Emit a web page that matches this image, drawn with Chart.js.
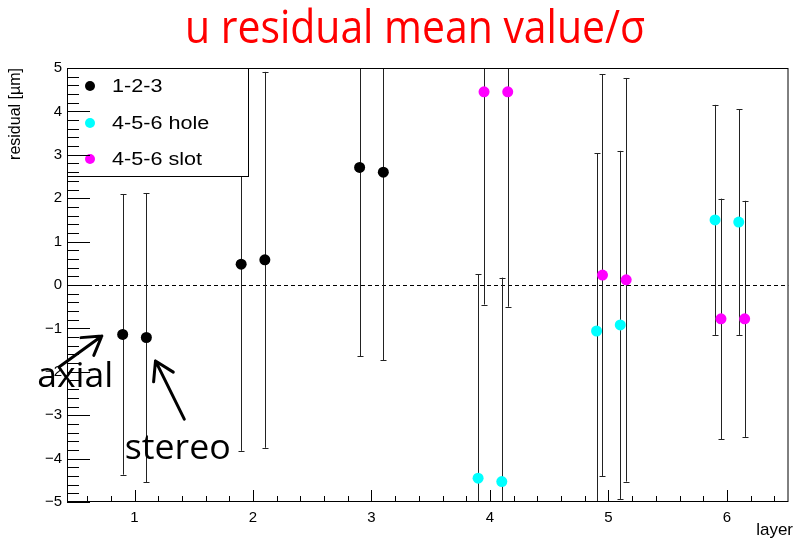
<!DOCTYPE html>
<html>
<head>
<meta charset="utf-8">
<script src="https://cdn.jsdelivr.net/npm/chart.js@4.4.0/dist/chart.umd.min.js"></script>
<style>
  html, body { margin: 0; padding: 0; background: #fff; }
  #wrap { width: 794px; height: 540px; }
</style>
</head>
<body>
<div id="wrap"><canvas id="chart" width="794" height="540"></canvas></div>
<script>
// series: layer position, mean residual, error
const seriesNames = ['1-2-3', '4-5-6 hole', '4-5-6 slot'];
const seriesColors = ['#000000', '#00ffff', '#ff00ff'];

const xBlack = [0.9, 1.1, 1.9, 2.1, 2.9, 3.1];
const yBlack = [-1.14, -1.21, 0.48, 0.58, 2.71, 2.60];
const eBlack = [3.23, 3.33, 4.30, 4.33, 4.35, 4.33];

const xHole = [3.9, 4.1, 4.9, 5.1, 5.9, 6.1];
const yHole = [-4.45, -4.53, -1.06, -0.92, 1.50, 1.45];
const eHole = [4.70, 4.70, 4.09, 4.01, 2.65, 2.60];

const xSlot = [3.95, 4.15, 4.95, 5.15, 5.95, 6.15];
const ySlot = [4.45, 4.45, 0.23, 0.12, -0.78, -0.78];
const eSlot = [4.90, 4.95, 4.63, 4.65, 2.77, 2.72];

const xTicks = [1, 2, 3, 4, 5, 6];
const yTicks = [-5, -4, -3, -2, -1, 0, 1, 2, 3, 4, 5];

const titleText = 'u residual mean value/\u03c3';
const yTitle = 'residual [\u00b5m]';
const xTitle = 'layer';

// hand-written notes on the plot, in data units
const notes = [
    { text: 'axial', x: 0.178, y: -2.35, width: 76 },
    { text: 'stereo', x: 0.917, y: -4.01, width: 106 }
];
const arrows = [
    { from: [0.363, -1.89], to: [0.724, -1.175] },
    { from: [1.42, -3.09], to: [1.177, -1.75] }
];

function toPoints(xs, ys) {
    return xs.map((x, i) => ({ x: x, y: ys[i] }));
}

const tickFont = { family: '"Liberation Sans", Arial, sans-serif', size: 15 };

function fitText(ctx, text, x, y, font, width) {
    ctx.font = font;
    const w = ctx.measureText(text).width;
    ctx.save();
    ctx.translate(x, y);
    ctx.scale(width / w, 1);
    ctx.textAlign = 'left';
    ctx.textBaseline = 'alphabetic';
    ctx.fillText(text, 0, 0);
    ctx.restore();
}

const rootStyle = {
    id: 'rootStyle',
    beforeDatasetsDraw(chart) {
        const ctx = chart.ctx;
        const a = chart.chartArea;
        const xs = chart.scales.x, ys = chart.scales.y;
        ctx.save();
        ctx.beginPath();
        ctx.rect(a.left, a.top, a.right - a.left, a.bottom - a.top);
        ctx.clip();

        // zero line
        const y0 = Math.round(ys.getPixelForValue(0)) + 0.5;
        ctx.strokeStyle = '#000';
        ctx.lineWidth = 1;
        ctx.setLineDash([4, 3]);
        ctx.beginPath();
        ctx.moveTo(a.left, y0);
        ctx.lineTo(a.right, y0);
        ctx.stroke();
        ctx.setLineDash([]);

        // error bars
        ctx.strokeStyle = '#222';
        chart.data.datasets.forEach(ds => {
            ds.data.forEach((p, i) => {
                const err = ds.errors[i];
                const px = Math.round(xs.getPixelForValue(p.x)) + 0.5;
                const lo = p.y - err, hi = p.y + err;
                const pLo = ys.getPixelForValue(lo);
                const pHi = ys.getPixelForValue(hi);
                ctx.beginPath();
                ctx.moveTo(px, pLo);
                ctx.lineTo(px, pHi);
                if (lo > ys.min) {
                    ctx.moveTo(px - 3, Math.round(pLo) + 0.5);
                    ctx.lineTo(px + 3, Math.round(pLo) + 0.5);
                }
                if (hi < ys.max) {
                    ctx.moveTo(px - 3, Math.round(pHi) + 0.5);
                    ctx.lineTo(px + 3, Math.round(pHi) + 0.5);
                }
                ctx.stroke();
            });
        });
        ctx.restore();
    },
    afterDatasetsDraw(chart) {
        // legend box in the top left corner
        const ctx = chart.ctx;
        const a = chart.chartArea;
        const left = a.left + 0.5, top = a.top + 0.5;
        ctx.save();
        ctx.fillStyle = '#fff';
        ctx.fillRect(left, top, 181, 108);
        ctx.strokeStyle = '#000';
        ctx.lineWidth = 1;
        ctx.strokeRect(left, top, 181, 108);
        const rows = [18, 55, 91];
        chart.data.datasets.forEach((ds, i) => {
            ctx.fillStyle = ds.backgroundColor;
            ctx.beginPath();
            ctx.arc(a.left + 23, a.top + rows[i], 5, 0, Math.PI * 2);
            ctx.fill();
            ctx.fillStyle = '#000';
            ctx.font = '18px "Liberation Sans", Arial, sans-serif';
            ctx.textBaseline = 'middle';
            ctx.save();
            ctx.translate(a.left + 45, a.top + rows[i] + 1);
            ctx.scale(1.2, 1);
            ctx.fillText(ds.label, 0, 0);
            ctx.restore();
        });
        ctx.restore();
    },
    afterDraw(chart) {
        const ctx = chart.ctx;
        const a = chart.chartArea;
        const xs = chart.scales.x, ys = chart.scales.y;
        ctx.save();
        ctx.strokeStyle = '#000';
        ctx.lineWidth = 1;

        // frame
        ctx.strokeRect(a.left + 0.5, a.top + 0.5, a.right - a.left - 1, a.bottom - a.top - 1);

        // inward ticks, minor every 0.2
        ctx.beginPath();
        for (let k = Math.ceil(xs.min / 0.2 - 1e-9); k * 0.2 <= xs.max + 1e-9; k++) {
            const px = Math.round(xs.getPixelForValue(k * 0.2)) + 0.5;
            const len = k % 5 === 0 ? 12 : 6;
            ctx.moveTo(px, a.bottom);
            ctx.lineTo(px, a.bottom - len);
        }
        for (let k = Math.ceil(ys.min / 0.2 - 1e-9); k * 0.2 <= ys.max + 1e-9; k++) {
            const py = Math.round(ys.getPixelForValue(k * 0.2)) + 0.5;
            const len = k % 5 === 0 ? 23 : 12;
            ctx.moveTo(a.left, py);
            ctx.lineTo(a.left + len, py);
        }
        ctx.stroke();

        // title
        ctx.fillStyle = '#ff0000';
        fitText(ctx, titleText, 185, 43, '46px "Open Sans", sans-serif', 460);

        // axis titles
        ctx.fillStyle = '#000';
        ctx.font = '16px "Liberation Sans", Arial, sans-serif';
        ctx.save();
        ctx.translate(16, a.top);
        ctx.rotate(-Math.PI / 2);
        ctx.textAlign = 'right';
        ctx.textBaseline = 'middle';
        ctx.fillText(yTitle, 0, 0);
        ctx.restore();

        ctx.font = '17px "Liberation Sans", Arial, sans-serif';
        ctx.textAlign = 'right';
        ctx.textBaseline = 'alphabetic';
        ctx.fillText(xTitle, 793, 535);

        // notes and arrows
        notes.forEach(n => {
            fitText(ctx, n.text, xs.getPixelForValue(n.x), ys.getPixelForValue(n.y),
                '35px "Open Sans", sans-serif', n.width);
        });
        ctx.lineWidth = 3;
        ctx.lineCap = 'round';
        arrows.forEach(ar => {
            const x1 = xs.getPixelForValue(ar.from[0]), y1 = ys.getPixelForValue(ar.from[1]);
            const x2 = xs.getPixelForValue(ar.to[0]), y2 = ys.getPixelForValue(ar.to[1]);
            const ang = Math.atan2(y1 - y2, x1 - x2);
            ctx.beginPath();
            ctx.moveTo(x1, y1);
            ctx.lineTo(x2, y2);
            [-0.55, 0.55].forEach(d => {
                ctx.moveTo(x2, y2);
                ctx.lineTo(x2 + 21 * Math.cos(ang + d), y2 + 21 * Math.sin(ang + d));
            });
            ctx.stroke();
        });
        ctx.restore();
    }
};

const ctx = document.getElementById('chart').getContext('2d');
const chart = new Chart(ctx, {
    type: 'scatter',
    data: {
        datasets: [{
            label: seriesNames[0],
            data: toPoints(xBlack, yBlack),
            errors: eBlack,
            backgroundColor: seriesColors[0],
            borderColor: seriesColors[0]
        }, {
            label: seriesNames[1],
            data: toPoints(xHole, yHole),
            errors: eHole,
            backgroundColor: seriesColors[1],
            borderColor: seriesColors[1]
        }, {
            label: seriesNames[2],
            data: toPoints(xSlot, ySlot),
            errors: eSlot,
            backgroundColor: seriesColors[2],
            borderColor: seriesColors[2]
        }]
    },
    options: {
        responsive: false,
        animation: false,
        layout: { padding: { top: 68, right: 1, left: 0, bottom: 0 } },
        elements: { point: { radius: 5.5, borderWidth: 0, hoverRadius: 5.5 } },
        plugins: {
            legend: { display: false },
            tooltip: { enabled: false },
            title: { display: false }
        },
        scales: {
            x: {
                type: 'linear',
                min: 0.43,
                max: 6.52,
                afterBuildTicks: s => { s.ticks = xTicks.map(v => ({ value: v })); },
                afterFit: s => { s.height = 38; },
                grid: { display: false, drawTicks: false },
                border: { display: false },
                ticks: { padding: 7, color: '#000', font: tickFont, maxRotation: 0 }
            },
            y: {
                type: 'linear',
                min: -5,
                max: 5,
                afterBuildTicks: s => { s.ticks = yTicks.map(v => ({ value: v })); },
                afterFit: s => { s.width = 67; },
                grid: { display: false, drawTicks: false },
                border: { display: false },
                ticks: {
                    padding: 5,
                    color: '#000',
                    font: tickFont,
                    callback: v => String(v).replace('-', '\u2212')
                }
            }
        }
    },
    plugins: [rootStyle]
});
</script>
</body>
</html>
